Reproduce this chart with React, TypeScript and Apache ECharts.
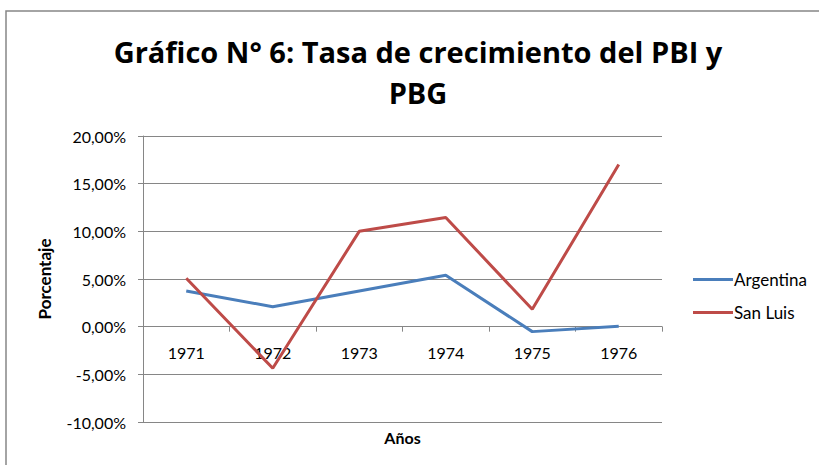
import React, { useEffect, useRef } from "react";
import * as echarts from "echarts";

const years = ["1971", "1972", "1973", "1974", "1975", "1976"];
const argentina = [3.74, 2.09, 3.75, 5.4, -0.52, 0.05];
const sanLuis = [5.07, -4.36, 10.0, 11.45, 1.82, 17.0];
const seriesNames = ["Argentina", "San Luis"];
const yMin = -10;
const yMax = 20;
const yStep = 5;

const FONT = "Lato";
const GRID = { left: 143, right: 157, top: 136, bottom: 43 };
const CHART_H = 465;

export default function App() {
  const ref = useRef<HTMLDivElement>(null);
  useEffect(() => {
    document.body.style.margin = "0";
    const chart = echarts.init(ref.current!, null, { renderer: "svg" });
    const plotH = CHART_H - GRID.top - GRID.bottom;
    const zeroOffset = -(plotH * (0 - yMin)) / (yMax - yMin);
    chart.setOption({
      animation: false,
      backgroundColor: "#ffffff",
      textStyle: { fontFamily: FONT },
      title: {
        text: "Gráfico N° 6: Tasa de crecimiento del PBI y\nPBG",
        left: 413,
        top: 26,
        textAlign: "center",
        textStyle: { fontFamily: "Open Sans", fontWeight: "bold", fontSize: 29, lineHeight: 41, color: "#000" },
      },
      graphic: [
        {
          type: "rect",
          shape: { x: 6, y: 11, width: 900, height: 600 },
          style: { fill: "none", stroke: "#868686", lineWidth: 1.5 },
          silent: true,
        },
      ],
      legend: {
        orient: "vertical",
        left: 688,
        top: 266,
        itemWidth: 40,
        itemHeight: 3,
        itemGap: 16,
        icon: "rect",
        textStyle: { fontFamily: FONT, fontSize: 17, color: "#000", padding: [0, 0, 0, -4] },
        data: seriesNames,
      },
      grid: { ...GRID, outerBoundsMode: "none" },
      xAxis: {
        type: "category",
        data: years,
        boundaryGap: true,
        offset: zeroOffset,
        name: "Años",
        nameLocation: "middle",
        nameGap: 103,
        nameTextStyle: { fontFamily: FONT, fontWeight: "bold", fontSize: 16, color: "#000" },
        axisLine: { onZero: false, lineStyle: { color: "#868686", width: 1 } },
        axisTick: { show: true, length: 5, lineStyle: { color: "#868686" } },
        axisLabel: { fontFamily: FONT, fontSize: 16, color: "#000", margin: 18 },
      },
      yAxis: {
        type: "value",
        min: yMin,
        max: yMax,
        interval: yStep,
        name: "Porcentaje",
        nameLocation: "middle",
        nameGap: 90,
        nameRotate: 90,
        nameTextStyle: { fontFamily: FONT, fontWeight: "bold", fontSize: 17, color: "#000" },
        axisLine: { show: true, lineStyle: { color: "#868686", width: 1 } },
        axisTick: { show: true, length: 5, lineStyle: { color: "#868686" } },
        axisLabel: {
          fontFamily: FONT,
          fontSize: 16,
          color: "#000",
          margin: 17,
          formatter: (v: number) => v.toFixed(2).replace(".", ",") + "%",
        },
        splitLine: { show: true, lineStyle: { color: "#868686", width: 1 } },
      },
      series: [
        {
          name: seriesNames[0],
          type: "line",
          data: argentina,
          symbol: "none",
          lineStyle: { color: "#4A7EBB", width: 3 },
          itemStyle: { color: "#4A7EBB" },
        },
        {
          name: seriesNames[1],
          type: "line",
          data: sanLuis,
          symbol: "none",
          lineStyle: { color: "#BE4B48", width: 3 },
          itemStyle: { color: "#BE4B48" },
        },
      ],
    });
    return () => chart.dispose();
  }, []);
  return <div ref={ref} style={{ width: 819, height: CHART_H }} />;
}
